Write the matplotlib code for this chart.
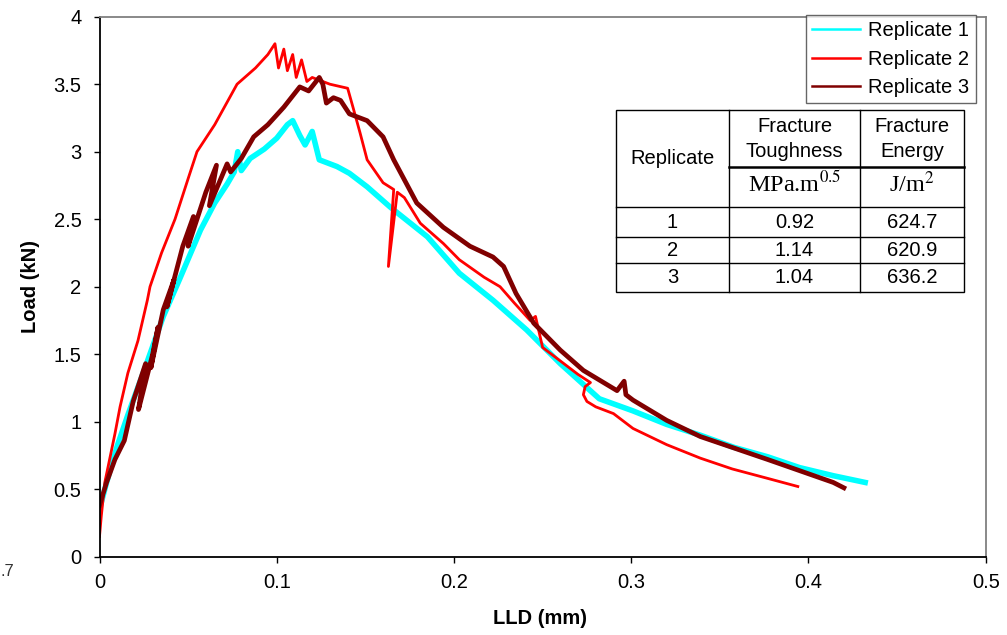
import matplotlib
matplotlib.use("Agg")
import matplotlib.pyplot as plt
from matplotlib.lines import Line2D
from matplotlib.patches import Rectangle

plt.rcParams['font.family'] = ['Liberation Sans', 'DejaVu Sans']

# ---------------- data ----------------
rep1_x = [0.000, 0.004, 0.010, 0.016, 0.026, 0.036, 0.045, 0.057, 0.065, 0.072,
          0.076, 0.078, 0.080, 0.085, 0.093, 0.100, 0.106, 0.109, 0.113, 0.116,
          0.120, 0.124, 0.134, 0.141, 0.151, 0.164, 0.185, 0.203, 0.222, 0.241,
          0.260, 0.282, 0.301, 0.320, 0.339, 0.358, 0.377, 0.395, 0.414, 0.432]
rep1_y = [0.35, 0.55, 0.82, 1.05, 1.41, 1.78, 2.05, 2.42, 2.62, 2.76,
          2.85, 3.00, 2.86, 2.95, 3.02, 3.10, 3.20, 3.23, 3.12, 3.05,
          3.15, 2.94, 2.89, 2.84, 2.74, 2.59, 2.37, 2.10, 1.90, 1.68,
          1.43, 1.17, 1.08, 0.98, 0.90, 0.81, 0.74, 0.66, 0.60, 0.55]

rep2_x = [0.000, 0.001, 0.003, 0.0087, 0.0116, 0.016, 0.0217, 0.027, 0.0285, 0.035,
          0.0426, 0.050, 0.055, 0.065, 0.0776, 0.088, 0.095, 0.099, 0.101, 0.104,
          0.106, 0.109, 0.111, 0.114, 0.117, 0.120, 0.130, 0.140, 0.143, 0.147,
          0.151, 0.160, 0.166, 0.163, 0.168, 0.172, 0.181, 0.194, 0.203, 0.217,
          0.226, 0.234, 0.243, 0.246, 0.250, 0.260, 0.270, 0.277, 0.274, 0.273,
          0.275, 0.280, 0.290, 0.301, 0.320, 0.339, 0.357, 0.377, 0.394]
rep2_y = [0.15, 0.30, 0.55, 0.91, 1.11, 1.36, 1.60, 1.90, 2.00, 2.25,
          2.50, 2.80, 3.00, 3.20, 3.50, 3.62, 3.72, 3.80, 3.62, 3.76,
          3.60, 3.72, 3.55, 3.68, 3.52, 3.55, 3.50, 3.47, 3.33, 3.14,
          2.94, 2.77, 2.72, 2.15, 2.70, 2.66, 2.47, 2.32, 2.20, 2.07,
          2.00, 1.88, 1.75, 1.78, 1.55, 1.45, 1.35, 1.29, 1.26, 1.20,
          1.15, 1.11, 1.06, 0.95, 0.83, 0.73, 0.65, 0.58, 0.52]

rep3_x = [0.000, 0.004, 0.0087, 0.014, 0.019, 0.026, 0.022, 0.030, 0.033, 0.029,
          0.036, 0.042, 0.038, 0.047, 0.053, 0.050, 0.060, 0.066, 0.062, 0.072,
          0.074, 0.080, 0.087, 0.095, 0.104, 0.113, 0.118, 0.124, 0.126, 0.128,
          0.132, 0.136, 0.141, 0.151, 0.160, 0.166, 0.179, 0.194, 0.209, 0.222,
          0.228, 0.235, 0.245, 0.260, 0.273, 0.292, 0.296, 0.297, 0.301, 0.320,
          0.339, 0.377, 0.414, 0.420]
rep3_y = [0.38, 0.55, 0.72, 0.86, 1.15, 1.43, 1.09, 1.50, 1.70, 1.40,
          1.83, 2.05, 1.85, 2.30, 2.52, 2.30, 2.70, 2.90, 2.60, 2.91,
          2.85, 2.95, 3.11, 3.20, 3.33, 3.48, 3.45, 3.55, 3.50, 3.36,
          3.40, 3.38, 3.28, 3.23, 3.11, 2.94, 2.62, 2.44, 2.30, 2.22,
          2.15, 1.95, 1.73, 1.53, 1.38, 1.23, 1.30, 1.20, 1.16, 1.01,
          0.89, 0.72, 0.55, 0.51]

series_labels = ['Replicate 1', 'Replicate 2', 'Replicate 3']
series_colors = ['#00FFFF', '#FF0000', '#800000']

x_ticks = [0, 0.1, 0.2, 0.3, 0.4, 0.5]
x_ticklabels = ['0', '0.1', '0.2', '0.3', '0.4', '0.5']
y_ticks = [0, 0.5, 1, 1.5, 2, 2.5, 3, 3.5, 4]
y_ticklabels = ['0', '0.5', '1', '1.5', '2', '2.5', '3', '3.5', '4']

table_reps = ['1', '2', '3']
table_toughness = ['0.92', '1.14', '1.04']
table_energy = ['624.7', '620.9', '636.2']

# ---------------- figure ----------------
W, H = 1007, 635
fig = plt.figure(figsize=(W / 100, H / 100), dpi=100)
ax = fig.add_axes([99.5 / W, 1 - 556.7 / H, (985.7 - 99.5) / W, (556.7 - 16.7) / H])

ax.plot(rep1_x, rep1_y, color=series_colors[0], lw=4.0, label=series_labels[0])
ax.plot(rep2_x, rep2_y, color=series_colors[1], lw=2.0, label=series_labels[1])
ax.plot(rep3_x, rep3_y, color=series_colors[2], lw=3.4, label=series_labels[2])

ax.set_xlim(0, 0.5)
ax.set_ylim(0, 4)
ax.set_xticks(x_ticks)
ax.set_xticklabels(x_ticklabels)
ax.set_yticks(y_ticks)
ax.set_yticklabels(y_ticklabels)
ax.tick_params(direction='out', length=4, width=1.0, labelsize=14.5, colors='black')
ax.tick_params(axis='y', pad=9)
ax.tick_params(axis='x', pad=8)

for side in ['left', 'bottom']:
    ax.spines[side].set_color('black')
    ax.spines[side].set_linewidth(1.3)
for side in ['top', 'right']:
    ax.spines[side].set_color('#808080')
    ax.spines[side].set_linewidth(1.3)

ax.set_ylabel('Load (kN)', fontsize=14.5, fontweight='bold')
ax.set_xlabel('LLD (mm)', fontsize=14.5, fontweight='bold')
ax.yaxis.set_label_coords((40 - 99.5) / (985.7 - 99.5), 0.5)
ax.xaxis.set_label_coords(0.497, (556.7 - 609) / (556.7 - 16.7))

leg = ax.legend(loc='upper left', bbox_to_anchor=((806 - 99.5) / 886.2, (556.7 - 15) / 540.0),
                fontsize=14.5, frameon=True, fancybox=False, shadow=False,
                handlelength=2.4, handletextpad=0.4, borderpad=0.3, labelspacing=0.48,
                borderaxespad=0)
leg.get_frame().set_edgecolor('#404040')
leg.get_frame().set_linewidth(1.0)
for h in leg.get_lines():
    h.set_linewidth(1.8)


# ---------------- table (figure pixel coords) ----------------
def fx(px):
    return px / W


def fy(py):
    return 1 - py / H


cols = [616, 729, 860, 964]
rows = [110, 207, 237, 263, 292]
tr = fig.transFigure
fig.add_artist(Rectangle((fx(cols[0]), fy(rows[-1])), fx(cols[-1]) - fx(cols[0]),
                         fy(rows[0]) - fy(rows[-1]), transform=tr, fill=True,
                         facecolor='white', edgecolor='black', lw=1.0, zorder=5))
for c in cols[1:-1]:
    fig.add_artist(Line2D([fx(c), fx(c)], [fy(rows[0]), fy(rows[-1])], transform=tr,
                          color='black', lw=1.0, zorder=6))
for r in rows[1:-1]:
    fig.add_artist(Line2D([fx(cols[0]), fx(cols[-1])], [fy(r), fy(r)], transform=tr,
                          color='black', lw=1.0, zorder=6))
fig.add_artist(Line2D([fx(cols[1]), fx(cols[-1])], [fy(167), fy(167)], transform=tr,
                      color='black', lw=1.8, zorder=6))

tkw = dict(transform=tr, fontsize=14.5, ha='center', va='center', zorder=7)
fig.text(fx((cols[0] + cols[1]) / 2), fy(158), 'Replicate', **tkw)
fig.text(fx((cols[1] + cols[2]) / 2), fy(127), 'Fracture', **tkw)
fig.text(fx((cols[1] + cols[2]) / 2), fy(151), 'Toughness', **tkw)
fig.text(fx((cols[2] + cols[3]) / 2), fy(127), 'Fracture', **tkw)
fig.text(fx((cols[2] + cols[3]) / 2), fy(151), 'Energy', **tkw)
skw = dict(transform=tr, fontsize=17.5, ha='center', va='center', zorder=7,
           family='Liberation Serif', math_fontfamily='stix')
fig.text(fx((cols[1] + cols[2]) / 2), fy(184), r'MPa.m$^{0.5}$', **skw)
fig.text(fx((cols[2] + cols[3]) / 2), fy(184), r'J/m$^{2}$', **skw)
for i in range(3):
    yc = (rows[i + 1] + rows[i + 2]) / 2
    fig.text(fx((cols[0] + cols[1]) / 2), fy(yc), table_reps[i], **tkw)
    fig.text(fx((cols[1] + cols[2]) / 2), fy(yc), table_toughness[i], **tkw)
    fig.text(fx((cols[2] + cols[3]) / 2), fy(yc), table_energy[i], **tkw)

# stray fragment at the lower-left corner
fig.text(fx(1), fy(571), '.7', fontsize=12, ha='left', va='center', color='#333333')

fig.savefig('out.png', dpi=100)
